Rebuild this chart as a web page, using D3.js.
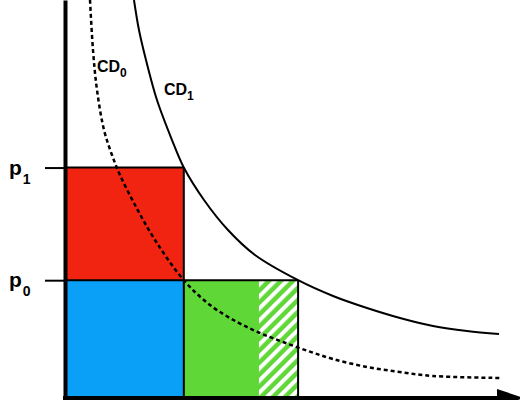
<!DOCTYPE html>
<html><head><meta charset="utf-8">
<script src="https://cdn.jsdelivr.net/npm/d3@7"></script>
<style>html,body{margin:0;padding:0;background:#fff;}svg{display:block;}</style>
</head><body>
<script>
// price levels (p0, p1) and their labels
const priceValues = [29.6, 57.9];
const priceLabels = [["p", "0"], ["p", "1"]];
// quantities: q0 (demand at p1), q1 (demand at p0), start of hatched part
const quantities = [26.4, 51.8];
const hatchStart = 43.1;
// demand curves (quantity, price)
const cd1Q = [15.33, 16.44, 18.0, 20.44, 23.78, 26.4, 30.89, 36.22, 42.22, 51.8, 59.56, 67.11, 74.44, 81.78, 89.33, 96.44];
const cd1P = [100, 92.46, 84.92, 74.87, 64.82, 57.9, 49.75, 42.21, 35.93, 29.6, 25.63, 22.61, 20.10, 18.09, 16.83, 16.08];
const cd0Q = [5.56, 6.22, 7.11, 8.67, 10.44, 12.22, 15.56, 20.0, 26.4, 32.22, 38.22, 43.33, 48.44, 54.0, 59.56, 67.11, 74.44, 81.78, 96.67];
const cd0P = [100, 87.44, 77.39, 67.34, 61.06, 56.03, 48.49, 39.70, 29.6, 23.37, 19.10, 16.33, 14.07, 11.81, 9.80, 7.79, 6.53, 5.53, 5.03];
const curveLabels = [["CD", "0"], ["CD", "1"]];

const W = 520, H = 400;
const x = d3.scaleLinear().domain([0, 100]).range([65, 515]);
const y = d3.scaleLinear().domain([0, 100]).range([398, 0]);

const svg = d3.select("body").append("svg").attr("width", W).attr("height", H);
const font = "'Liberation Sans', Arial, Helvetica, sans-serif";

const defs = svg.append("defs");
const pat = defs.append("pattern").attr("id", "hatch").attr("patternUnits", "userSpaceOnUse")
  .attr("width", 8.5).attr("height", 8.5).attr("patternTransform", "rotate(45)");
pat.append("rect").attr("width", 8.5).attr("height", 8.5).attr("fill", "#5fd737");
pat.append("rect").attr("width", 4).attr("height", 8.5).attr("fill", "#ffffff");

const [p0, p1] = priceValues;
const [q0, q1] = quantities;
const rects = [
  {x0: 0, x1: q0, y0: p0, y1: p1, fill: "#f02410"},
  {x0: 0, x1: q0, y0: 0, y1: p0, fill: "#0aa0f8"},
  {x0: q0, x1: q1, y0: 0, y1: p0, fill: "#5fd737"},
  {x0: hatchStart, x1: q1, y0: 0, y1: p0, fill: "url(#hatch)"}
];
svg.selectAll("rect.area").data(rects).enter().append("rect").attr("class", "area")
  .attr("x", d => x(d.x0)).attr("y", d => y(d.y1))
  .attr("width", d => x(d.x1) - x(d.x0)).attr("height", d => y(d.y0) - y(d.y1))
  .attr("fill", d => d.fill);

// curves
const line = d3.line().x(d => x(d[0])).y(d => y(d[1])).curve(d3.curveCatmullRom.alpha(0.5));
svg.append("path").attr("d", line(d3.zip(cd0Q, cd0P))).attr("fill", "none")
  .attr("stroke", "#000").attr("stroke-width", 2.5).attr("stroke-dasharray", "4,3");
svg.append("path").attr("d", line(d3.zip(cd1Q, cd1P))).attr("fill", "none")
  .attr("stroke", "#000").attr("stroke-width", 2);

// rectangle borders
const g = svg.append("g").attr("stroke", "#000").attr("stroke-width", 2);
g.append("line").attr("x1", x(0)).attr("x2", x(q0)).attr("y1", y(p1)).attr("y2", y(p1));
g.append("line").attr("x1", x(0)).attr("x2", x(q1)).attr("y1", y(p0)).attr("y2", y(p0));
g.append("line").attr("x1", x(q0)).attr("x2", x(q0)).attr("y1", y(p1)).attr("y2", y(0));
g.append("line").attr("x1", x(q1)).attr("x2", x(q1)).attr("y1", y(p0)).attr("y2", y(0));

// y axis with price ticks
const yAxis = svg.append("g").attr("transform", `translate(${x(0)},0)`)
  .call(d3.axisLeft(y).tickValues(priceValues).tickSize(20).tickSizeOuter(0).tickFormat(""));
yAxis.select(".domain").attr("stroke", "#000").attr("stroke-width", 4);
yAxis.selectAll(".tick line").attr("stroke", "#000").attr("stroke-width", 2);

// x axis with arrow
const xAxis = svg.append("g").attr("transform", `translate(0,${y(0)})`)
  .call(d3.axisBottom(x).tickValues([]).tickSizeOuter(0));
xAxis.select(".domain").attr("stroke", "#000").attr("stroke-width", 4).attr("d", `M${x(0) - 2},0H${x(96)}`);
svg.append("path").attr("d", `M${x(96)},${y(0) - 9}L${x(96) + 27},${y(0)}L${x(96)},${y(0) + 9}Z`).attr("fill", "#000");

// price labels
priceValues.forEach((v, i) => {
  const t = svg.append("text").attr("x", 9).attr("y", y(v) + 7)
    .attr("font-family", font).attr("font-weight", "bold").attr("font-size", 21).attr("fill", "#000");
  t.append("tspan").text(priceLabels[i][0]);
  t.append("tspan").attr("font-size", 14).attr("dx", 1).attr("dy", 9).text(priceLabels[i][1]);
});

// curve labels
const labelPos = [[7.1, 81.9], [22, 76.1]];
curveLabels.forEach((l, i) => {
  const t = svg.append("text").attr("x", x(labelPos[i][0])).attr("y", y(labelPos[i][1]))
    .attr("font-family", font).attr("font-weight", "bold").attr("font-size", 16).attr("fill", "#000");
  t.append("tspan").text(l[0]);
  t.append("tspan").attr("font-size", 12).attr("dy", 5).text(l[1]);
});
</script>
</body></html>
